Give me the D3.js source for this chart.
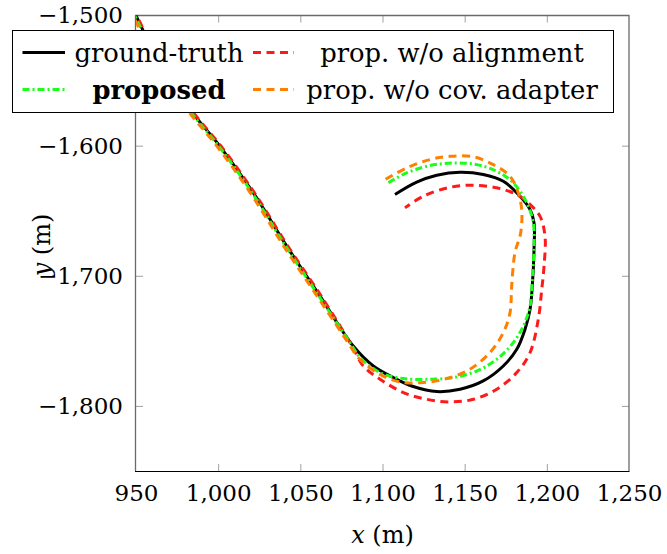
<!DOCTYPE html>
<html>
<head>
<meta charset="utf-8">
<script src="https://cdn.jsdelivr.net/npm/d3@7"></script>
<style>
  body { margin: 0; background: #fff; }
  svg { display: block; }
  text { font-family: "DejaVu Serif", serif; fill: #000; }
</style>
</head>
<body>
<svg id="chart" width="667" height="554"></svg>
<script>
// Axis ticks
const xTicks = [950, 1000, 1050, 1100, 1150, 1200, 1250];
const yTicks = [-1500, -1600, -1700, -1800];

// Trajectories (metres)
const gtX = [948, 950, 966, 982.9, 1001.1, 1021.4, 1041.7, 1062, 1082.2, 1094.4, 1106.6, 1118.7, 1133, 1147.2, 1161.3, 1173.5, 1181.7, 1186.7, 1189.8, 1191.4, 1192.2, 1192.2, 1189.8, 1183.7, 1173.5, 1161.3, 1147.2, 1133, 1120.8, 1107.6];
const gtY = [-1494, -1500, -1540, -1572.4, -1600.5, -1636.3, -1677.2, -1715.6, -1754, -1769.3, -1778.2, -1785.1, -1789, -1787.2, -1780.8, -1769.3, -1756.5, -1741.2, -1725.8, -1702.8, -1679.8, -1659.3, -1649.1, -1638.9, -1627.4, -1622.2, -1620.5, -1622.8, -1628.1, -1637.6];

const noAlignX = [948.5, 950.5, 966.7, 983.6, 1001.8, 1022.1, 1042.4, 1062.7, 1081.5, 1088.3, 1098.5, 1112.7, 1126.9, 1141.1, 1155.3, 1169.5, 1181.7, 1189.8, 1194.8, 1196.9, 1198.3, 1198.9, 1195.8, 1189.8, 1181.7, 1169.5, 1155.3, 1141.1, 1124.8, 1113.7];
const noAlignY = [-1494, -1500, -1540, -1572.4, -1600.5, -1636.3, -1677.2, -1715.6, -1754, -1769.3, -1779.5, -1789.7, -1794.9, -1796.9, -1794.9, -1787.2, -1774.4, -1759, -1733.5, -1710.5, -1692.6, -1669.6, -1654.2, -1645.2, -1637.6, -1632.4, -1630.4, -1632, -1638.9, -1647.8];

const proposedX = [947.3, 949.3, 965.3, 982.2, 1000.4, 1020.7, 1041, 1061.3, 1081.5, 1086.3, 1098.5, 1112.7, 1128.9, 1143.1, 1157.3, 1169.5, 1179.6, 1185.7, 1189.8, 1191.2, 1192.2, 1191.8, 1187.8, 1179.6, 1169.5, 1157.3, 1143.1, 1128.9, 1114.7, 1103.5];
const proposedY = [-1494, -1500, -1540, -1572.4, -1600.5, -1636.3, -1677.2, -1715.6, -1754, -1762.9, -1774.4, -1779, -1779.5, -1778.2, -1773.2, -1764.2, -1751.4, -1738.6, -1723.3, -1702.8, -1677.2, -1659.3, -1643.9, -1628.6, -1619.7, -1614.6, -1613.3, -1615.3, -1620.9, -1628.6];

const noCovX = [946.2, 948.2, 964.2, 981.1, 999.3, 1019.6, 1039.9, 1060.2, 1080.4, 1084.3, 1096.5, 1110.7, 1124.8, 1139.1, 1153.2, 1165.4, 1173.5, 1177.6, 1178.6, 1180.6, 1184.1, 1184.7, 1182.6, 1177.6, 1167.4, 1155.3, 1141.1, 1128.9, 1114.7, 1101.5];
const noCovY = [-1494, -1500, -1540, -1572.4, -1600.5, -1636.3, -1677.2, -1715.6, -1754, -1761.6, -1774.4, -1781.6, -1782, -1779, -1771.8, -1759, -1743.7, -1728.3, -1707.9, -1682.3, -1667, -1649.1, -1636.3, -1623.5, -1614.6, -1608.6, -1608.2, -1610.7, -1617.1, -1626.1];

const seriesNames = ["ground-truth", "prop. w/o alignment", "proposed", "prop. w/o cov. adapter"];
const seriesColors = ["#000000", "#ff1a1a", "#1aff1a", "#ff8000"];
const seriesDash = [null, "8,5.5", "7,3,2,3", "8,5.5"];

const series = [
  { name: seriesNames[0], xs: gtX, ys: gtY, color: seriesColors[0], dash: seriesDash[0], bold: false },
  { name: seriesNames[1], xs: noAlignX, ys: noAlignY, color: seriesColors[1], dash: seriesDash[1], bold: false },
  { name: seriesNames[2], xs: proposedX, ys: proposedY, color: seriesColors[2], dash: seriesDash[2], bold: true },
  { name: seriesNames[3], xs: noCovX, ys: noCovY, color: seriesColors[3], dash: seriesDash[3], bold: false }
];

const svg = d3.select("#chart");
const plotLeft = 136, plotRight = 629, plotTop = 15.5, plotBottom = 471;

const x = d3.scaleLinear().domain([950, 1250]).range([plotLeft, plotRight]);
const y = d3.scaleLinear().domain([-1500, -1850]).range([plotTop, plotBottom]);
const fmt = d3.format(",");

svg.append("defs").append("clipPath").attr("id", "plot-clip")
  .append("rect").attr("x", plotLeft).attr("y", plotTop)
  .attr("width", plotRight - plotLeft).attr("height", plotBottom - plotTop);

// Tick marks pointing inward on all four sides
const tickLen = 7;
function styleAxis(g) {
  g.select(".domain").remove();
  g.selectAll(".tick line").attr("stroke", "#a0a0a0").attr("stroke-width", 1);
  g.selectAll(".tick text").style("font-size", "23px").attr("fill", "#000");
}

svg.append("g").attr("transform", `translate(0,${plotBottom})`)
  .call(d3.axisBottom(x).tickValues(xTicks).tickSizeInner(-tickLen).tickSizeOuter(0).tickPadding(14).tickFormat(fmt))
  .call(styleAxis)
  .call(g => g.selectAll(".tick").filter(d => d === 950 || d === 1250).select("line").remove());

svg.append("g").attr("transform", `translate(0,${plotTop})`)
  .call(d3.axisTop(x).tickValues(xTicks.slice(1, -1)).tickSizeInner(-tickLen).tickSizeOuter(0).tickFormat(""))
  .call(styleAxis);

svg.append("g").attr("transform", `translate(${plotLeft},0)`)
  .call(d3.axisLeft(y).tickValues(yTicks).tickSizeInner(-tickLen).tickSizeOuter(0).tickPadding(13).tickFormat(fmt))
  .call(styleAxis)
  .call(g => g.selectAll(".tick").filter(d => d === -1500).select("line").remove());

svg.append("g").attr("transform", `translate(${plotRight},0)`)
  .call(d3.axisRight(y).tickValues(yTicks.slice(1)).tickSizeInner(-tickLen).tickSizeOuter(0).tickFormat(""))
  .call(styleAxis);

// Frame
svg.append("path")
  .attr("d", `M${plotLeft - 0.5},${plotBottom} V${plotTop} H${plotRight} V${plotBottom}`)
  .attr("fill", "none").attr("stroke", "#6a6a6a").attr("stroke-width", 1.3);
svg.append("line")
  .attr("x1", plotLeft - 1).attr("x2", plotRight + 0.5)
  .attr("y1", plotBottom + 0.5).attr("y2", plotBottom + 0.5)
  .attr("stroke", "#000").attr("stroke-width", 1);

// Trajectories
const line = d3.line()
  .x(d => x(d[0])).y(d => y(d[1]))
  .curve(d3.curveCatmullRom.alpha(0.5));

const plot = svg.append("g").attr("clip-path", "url(#plot-clip)");
series.forEach(s => {
  plot.append("path")
    .datum(s.xs.map((v, i) => [v, s.ys[i]]))
    .attr("d", line)
    .attr("fill", "none")
    .attr("stroke", s.color)
    .attr("stroke-width", 3)
    .attr("stroke-dasharray", s.dash)
    .attr("stroke-linejoin", "round");
});

// Legend
const legend = svg.append("g");
legend.append("rect")
  .attr("x", 12.5).attr("y", 30.5).attr("width", 601).attr("height", 82)
  .attr("fill", "#fff").attr("stroke", "#000").attr("stroke-width", 1);

const legendCols = [
  { x0: 22.5, x1: 65, tx: 159 },
  { x0: 253, x1: 294, tx: 452 }
];
const legendRows = [52.5, 89.5];

series.forEach((s, i) => {
  const col = legendCols[i % 2];
  const ry = legendRows[Math.floor(i / 2)];
  legend.append("line")
    .attr("x1", col.x0).attr("x2", col.x1)
    .attr("y1", ry).attr("y2", ry)
    .attr("stroke", s.color).attr("stroke-width", 3)
    .attr("stroke-dasharray", s.dash);
  legend.append("text")
    .attr("x", col.tx).attr("y", ry + 9)
    .attr("text-anchor", "middle")
    .style("font-size", "25.8px")
    .style("font-weight", s.bold ? "bold" : "normal")
    .text(s.name);
});

// Axis titles
const xt = svg.append("text")
  .attr("x", (plotLeft + plotRight) / 2).attr("y", 543)
  .attr("text-anchor", "middle").style("font-size", "24px");
xt.append("tspan").style("font-style", "italic").text("x");
xt.append("tspan").text(" (m)");

const yt = svg.append("text")
  .attr("transform", "translate(50,245) rotate(-90)")
  .attr("text-anchor", "middle").style("font-size", "24px");
yt.append("tspan").style("font-style", "italic").text("y");
yt.append("tspan").text(" (m)");
</script>
</body>
</html>
